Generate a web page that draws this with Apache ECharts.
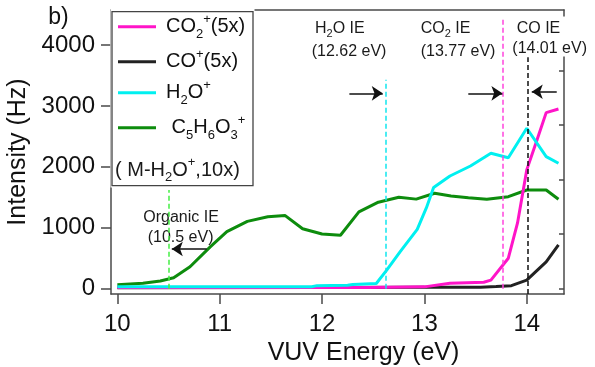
<!DOCTYPE html>
<html><head><meta charset="utf-8">
<script src="https://cdn.jsdelivr.net/npm/echarts@6/dist/echarts.min.js"></script>
<style>html,body{margin:0;padding:0;background:#fff}#c{width:595px;height:367px}</style>
</head><body><div id="c"></div>
<script>
// ---- data ----
const xTicks = [10, 11, 12, 13, 14];
const yTicks = [0, 1000, 2000, 3000, 4000];
const rightTicks = [0, 1, 2, 3, 4];

const c5Energy = [10.0, 10.25, 10.42, 10.55, 10.71, 10.91, 11.07, 11.27, 11.47, 11.64, 11.81, 12.0, 12.18, 12.36, 12.55, 12.75, 12.92, 13.1, 13.26, 13.43, 13.61, 13.82, 14.0, 14.19, 14.31];
const c5Signal = [66, 89, 126, 181, 361, 690, 936, 1105, 1182, 1200, 985, 898, 878, 1260, 1420, 1500, 1470, 1566, 1522, 1494, 1467, 1510, 1620, 1620, 1467];

const h2oEnergy = [10.0, 11.9, 11.95, 12.25, 12.3, 12.53, 12.63, 12.76, 12.93, 13.02, 13.09, 13.25, 13.45, 13.65, 13.82, 14.0, 14.19, 14.31];
const h2oSignal = [33, 33, 50, 55, 70, 85, 300, 600, 975, 1330, 1660, 1850, 2014, 2222, 2150, 2633, 2167, 2058];

const co2Energy = [10.0, 12.45, 13.0, 13.25, 13.58, 13.65, 13.82, 13.91, 14.0, 14.1, 14.19, 14.31];
const co2Signal = [18, 18, 30, 90, 105, 140, 500, 1080, 1950, 2440, 2890, 2950];

const coEnergy = [10.0, 12.0, 12.9, 13.55, 13.7, 13.85, 14.0, 14.19, 14.31];
const coSignal = [15, 18, 22, 25, 35, 50, 140, 440, 720];

// ionization energies (dashed lines) and their extents
const ieEnergy = [10.5, 12.62, 13.77, 14.01];
const ieBottom = [0, 0, 0, -87];
const ieTop = [1620, 3430, 4440, 3800];
const ieColors = ['#44ee44', '#11e6ee', '#ff44dd', '#111111'];

// arrows: [x, y] tail and head
const arrowTail = [[12.267, 3207], [13.429, 3207], [14.293, 3233], [10.873, 652]];
const arrowHead = [[12.593, 3207], [13.762, 3207], [14.049, 3233], [10.532, 652]];

// ---- chart ----
const FONT = 'Liberation Sans, Arial, sans-serif';
const axisCol = '#4a4a4a';
const pairs = (xs, ys) => xs.map((x, i) => [x, ys[i]]);

const legendLabels = {
  'CO2': '{m|CO}{s|2}{p|+}{m|(5x)}',
  'CO': '{m|CO}{p|+}{m|(5x)}',
  'H2O': '{m|H}{s|2}{m|O}{p|+}',
  'C5': '{m| C}{s|5}{m|H}{s|6}{m|O}{s|3}{p|+}'
};
const legRich = {
  m: {fontSize: 20, lineHeight: 28, fontFamily: FONT, color: '#111'},
  s: {fontSize: 13, lineHeight: 13, fontFamily: FONT, color: '#111', verticalAlign: 'bottom'},
  p: {fontSize: 13, lineHeight: 13, fontFamily: FONT, color: '#111', verticalAlign: 'top'}
};
const annRich = {
  m: {fontSize: 16, lineHeight: 20, fontFamily: FONT, fill: '#1a1a1a', color: '#1a1a1a'},
  s: {fontSize: 11, lineHeight: 12, fontFamily: FONT, fill: '#1a1a1a', color: '#1a1a1a', verticalAlign: 'bottom'}
};

const markData = [];
ieEnergy.forEach((e, i) => {
  markData.push([
    {coord: [e, ieBottom[i]], symbol: 'none', lineStyle: {color: ieColors[i], type: [5, 3], width: 1.5}},
    {coord: [e, ieTop[i]], symbol: 'none'}
  ]);
});
arrowTail.forEach((t, i) => {
  markData.push([
    {coord: t, symbol: 'none', lineStyle: {color: '#111', type: 'solid', width: 1.5}},
    {coord: arrowHead[i], symbol: 'arrow', symbolSize: 11}
  ]);
});

function lineSeries(name, xs, ys, color, extra) {
  return Object.assign({
    name, type: 'line', data: pairs(xs, ys), showSymbol: false, symbol: 'none',
    lineStyle: {color, width: 3}, itemStyle: {color}, silent: true,
    emphasis: {disabled: true}
  }, extra || {});
}

function txt(x, y, text, rich, extra) {
  return Object.assign({type: 'text', x, y, z: 5, silent: true,
    style: {text, rich, align: 'left', verticalAlign: 'middle', fill: '#1a1a1a', fontFamily: FONT, fontSize: 16}}, extra || {});
}

const chart = echarts.init(document.getElementById('c'));
chart.setOption({
  animation: false,
  backgroundColor: '#fff',
  grid: {left: 111, right: 31, top: 10, bottom: 73, containLabel: false, outerBoundsMode: 'none'},
  xAxis: [{
    type: 'value', min: 9.938, max: 14.364, position: 'bottom',
    axisLine: {show: true, onZero: false, lineStyle: {color: axisCol, width: 1.5}},
    axisTick: {show: true, inside: false, length: 10, customValues: xTicks, lineStyle: {color: axisCol, width: 1.5}},
    axisLabel: {customValues: xTicks, fontSize: 24, fontFamily: FONT, color: '#111', margin: 18, formatter: v => String(v)},
    splitLine: {show: false},
    name: 'VUV Energy (eV)', nameLocation: 'middle', nameGap: 47,
    nameTextStyle: {fontSize: 25, fontFamily: FONT, color: '#111', padding: [0, 0, 0, 52]}
  }, {
    type: 'value', min: 9.938, max: 14.364, position: 'top',
    axisLine: {show: true, onZero: false, lineStyle: {color: axisCol, width: 1.5}},
    axisTick: {show: false}, axisLabel: {show: false}, splitLine: {show: false}
  }],
  yAxis: [{
    type: 'value', min: -87, max: 4574, position: 'left',
    axisLine: {show: true, onZero: false, lineStyle: {color: axisCol, width: 1.5}},
    axisTick: {show: true, inside: false, length: 10, customValues: yTicks, lineStyle: {color: axisCol, width: 1.5}},
    axisLabel: {customValues: yTicks, fontSize: 24, fontFamily: FONT, color: '#111', margin: 16, formatter: v => String(v)},
    splitLine: {show: false},
    name: 'Intensity (Hz)', nameLocation: 'middle', nameGap: 76,
    nameTextStyle: {fontSize: 25, fontFamily: FONT, color: '#111'}
  }, {
    type: 'value', min: -0.097, max: 5.104, position: 'right',
    axisLine: {show: true, onZero: false, lineStyle: {color: axisCol, width: 1.5}},
    axisTick: {show: true, inside: true, length: 5, customValues: rightTicks, lineStyle: {color: axisCol, width: 1.5}},
    axisLabel: {show: false}, splitLine: {show: false}
  }],
  legend: {
    data: ['CO2', 'CO', 'H2O', 'C5'],
    orient: 'vertical', left: 112, top: 11.7,
    padding: [1, 5, 0, 6], itemGap: 7, itemWidth: 38, itemHeight: 3, icon: 'rect',
    selectedMode: false, z: 6,
    formatter: n => legendLabels[n],
    textStyle: {padding: [0, 0, 0, 5], rich: legRich}
  },
  series: [
    lineSeries('C5', c5Energy, c5Signal, '#0d8c0d', {
      markLine: {silent: true, animation: false, label: {show: false}, emphasis: {disabled: true}, data: markData}
    }),
    lineSeries('CO', coEnergy, coSignal, '#222222'),
    lineSeries('CO2', co2Energy, co2Signal, '#ff14c8'),
    lineSeries('H2O', h2oEnergy, h2oSignal, '#00f0f0')
  ],
  graphic: {elements: [
    {type: 'rect', z: 3, silent: true, shape: {x: 110.5, y: 7.5, width: 144, height: 180}, style: {fill: '#fff'}},
    {type: 'rect', z: 3, silent: true, shape: {x: 112, y: 11.7, width: 141, height: 174}, style: {fill: 'none', stroke: '#444', lineWidth: 1.3}},
    {type: 'rect', z: 3, silent: true, shape: {x: 556, y: 16.5, width: 14, height: 40}, style: {fill: '#fff'}},
    txt(115, 170, '{m|( M-H}{s|2}{m|O}{p|+}{m|,10x)}', legRich, {z: 7}),
    txt(48.3, 18, 'b)', null, {style: {text: 'b)', align: 'left', verticalAlign: 'middle', fill: '#111', fontFamily: FONT, fontSize: 23}}),
    txt(315, 29, '{m|H}{s|2}{m|O IE}', annRich),
    txt(311.7, 51.7, '{m|(12.62 eV)}', annRich),
    txt(420.7, 29, '{m|CO}{s|2}{m| IE}', annRich),
    txt(420.7, 51.7, '{m|(13.77 eV)}', annRich),
    txt(516.7, 29, '{m|CO IE}', annRich),
    txt(512.3, 48.3, '{m|(14.01 eV)}', annRich),
    txt(143.3, 217.5, '{m|Organic IE}', annRich),
    txt(147.7, 237.5, '{m|(10.5 eV)}', annRich)
  ]}
});
</script>
</body></html>
